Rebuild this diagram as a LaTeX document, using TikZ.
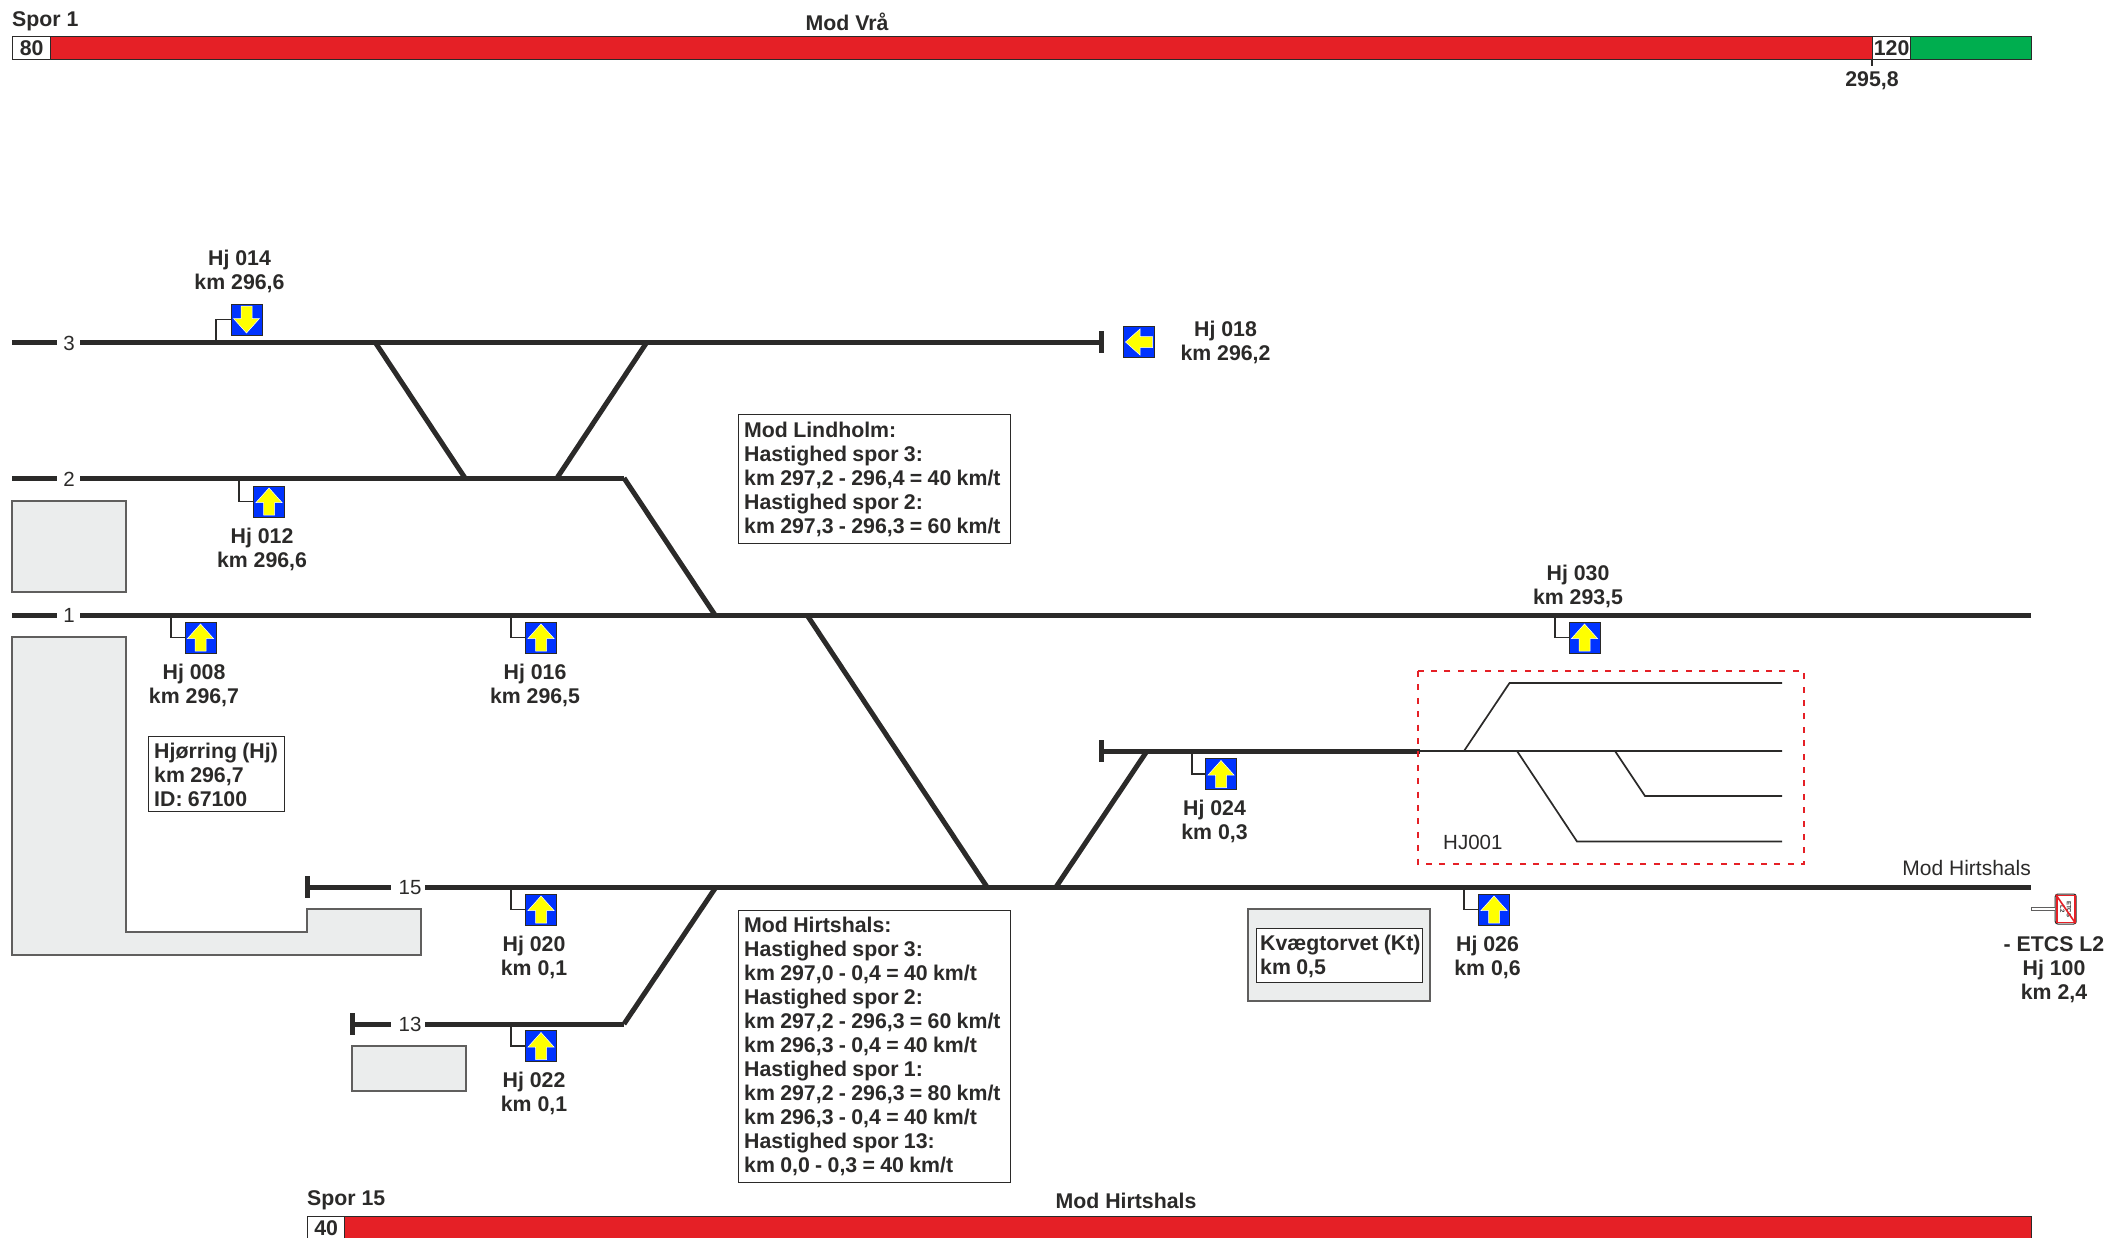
\documentclass[tikz,border=0pt]{standalone}
\usepackage{fontspec}
\setmainfont{Liberation Sans}
\newfontfamily\boxfont[WordSpace=0.9]{Liberation Sans}
\definecolor{ink}{HTML}{2B2A29}
\definecolor{bred}{HTML}{E52026}
\definecolor{bgreen}{HTML}{00AE4F}
\definecolor{sblue}{HTML}{0033FF}
\definecolor{syel}{HTML}{FFFF00}
\definecolor{bldg}{HTML}{EBEDED}
\tikzset{
 x=1pt,y=-1pt,
 lab/.style={font=\fontsize{21.3}{24}\selectfont\bfseries,text=ink,align=center,inner sep=0pt},
 boxframe/.style={draw=ink,line width=1.3pt,fill=white,anchor=north west,inner sep=0pt},
 infotext/.style={font=\boxfont\fontsize{21.3}{24}\selectfont\bfseries,text=ink,align=left,anchor=north west,inner sep=0pt},
 tracklab/.style={font=\fontsize{20.5}{24}\selectfont,text=ink,inner sep=0pt},
 thick track/.style={draw=ink,line width=5pt},
 thin track/.style={draw=ink,line width=1.7pt},
 building/.style={draw=ink!75,line width=1.2pt,fill=bldg},
 leader/.style={draw=ink,line width=1.2pt},
 barbox/.style={draw=ink,line width=1.3pt},
 sq/.style={draw=ink,line width=1pt,fill=sblue,minimum size=31pt,inner sep=0pt,outer sep=0pt},
}
\newcommand{\sgn}[4]{% name, x, y, rotation
 \node[sq] (#1) at (#2,#3) {};
 \fill[syel,draw=white,line width=.5pt,shift={(#2,#3)},rotate=#4] (0,-13.5) -- (13,1) -- (5.5,1) -- (5.5,13.5) -- (-5.5,13.5) -- (-5.5,1) -- (-13,1) -- cycle;
}
\newcommand{\lft}[5]{% name,x,y,elbowx,tracky
 \sgn{#1}{#2}{#3}{0}
 \coordinate (#1t) at (#4,#5);
 \draw[leader] (#1t) |- (#1.west);
}
\begin{document}
\begin{tikzpicture}
\useasboundingbox (0,0) rectangle (2109,1237);
% top bar
\node[barbox,fill=bred,minimum width=1860pt,minimum height=23pt,inner sep=0,anchor=north west] (topred) at (12,36) {};
\node[barbox,fill=bgreen,minimum width=121pt,minimum height=23pt,inner sep=0,anchor=north west] (topgreen) at (1910,36) {};
\node[barbox,fill=white,minimum width=38pt,minimum height=23pt,inner sep=0,anchor=north west,lab] (b80) at (12,36) {80};
\node[barbox,fill=white,minimum width=38pt,minimum height=23pt,inner sep=0,anchor=north west,lab] (b120) at (1872,36) {120};
\coordinate (tick) at (1872,66);
\draw[leader] (b120.south west) -- (tick);
\node[lab] (n2958) at (1872,81) {295,8};
\node[lab,anchor=west] (spor1) at (12,21) {Spor 1};
\node[lab] (modvra) at (847,22) {Mod Vrå};
% bottom bar
\node[barbox,fill=bred,minimum width=1724pt,minimum height=23pt,inner sep=0,anchor=north west] (botred) at (307,1216) {};
\node[barbox,fill=white,minimum width=37pt,minimum height=23pt,inner sep=0,anchor=north west,lab] (b40) at (307,1216) {40};
\node[lab,anchor=west] (spor15) at (307,1200) {Spor 15};
\node[lab] (modh2) at (1126,1201) {Mod Hirtshals};
% buildings
\path[building] (12,501) rectangle (126,592);
\path[building] (12,637) -- (126,637) -- (126,932) -- (307,932) -- (307,909) -- (421,909) -- (421,955) -- (12,955) -- cycle;
\path[building] (352,1046) rectangle (466,1091);
\path[building] (1248,909) rectangle (1430,1001);
% tracks: named junctions
\coordinate (a3) at (12,342); \coordinate (b3) at (57,342); \coordinate (c3) at (80,342); \coordinate (e3) at (1101,342);
\coordinate (a2) at (12,478); \coordinate (b2) at (57,478); \coordinate (c2) at (80,478); \coordinate (e2) at (624,478);
\coordinate (a1) at (12,615); \coordinate (b1) at (57,615); \coordinate (c1) at (80,615); \coordinate (e1) at (2031,615);
\coordinate (s24) at (1101,751); \coordinate (e24) at (1420,751);
\coordinate (s15) at (307,887); \coordinate (b15) at (391,887); \coordinate (c15) at (425,887); \coordinate (e15) at (2031,887);
\coordinate (s13) at (352,1024); \coordinate (b13) at (391,1024); \coordinate (c13) at (425,1024); \coordinate (e13) at (624,1024);
\coordinate (j1) at (375,342); \coordinate (j2) at (465,478);
\coordinate (j3) at (647,342); \coordinate (j4) at (557,478);
\coordinate (j5) at (715,615); \coordinate (j6) at (807,615); \coordinate (j7) at (987,887);
\coordinate (j8) at (1147,751); \coordinate (j9) at (1056,887); \coordinate (j10) at (716,887);
\path[thick track] (a3) -- (b3) (c3) -- (e3) (a2) -- (b2) (c2) -- (e2) (a1) -- (b1) (c1) -- (e1);
\path[thick track] (s24) -- (e24) (s15) -- (b15) (c15) -- (e15) (s13) -- (b13) (c13) -- (e13);
\path[thick track] (j1) -- (j2) (j3) -- (j4) (e2) -- (j5) (j6) -- (j7) (j8) -- (j9) (e13) -- (j10);
\path[thick track] (1101,331) -- (1101,353) (1101,740) -- (1101,762) (307,876) -- (307,898) (352,1013) -- (352,1035);
\node[tracklab] (t3) at (69,343) {3};
\node[tracklab] (t2) at (69,479) {2};
\node[tracklab] (t1) at (69,615) {1};
\node[tracklab] (t15) at (410,888) {15};
\node[tracklab] (t13) at (410,1024) {13};
% HJ001
\coordinate (m0) at (1420,751); \coordinate (m1) at (1782,751);
\coordinate (u0) at (1464,751); \coordinate (u1) at (1509.5,683); \coordinate (u2) at (1782,683);
\coordinate (d0) at (1517,751); \coordinate (d1) at (1577,841.5); \coordinate (d2) at (1782,841.5);
\coordinate (f0) at (1615,751); \coordinate (f1) at (1645,796); \coordinate (f2) at (1782,796);
\path[thin track] (m0) -- (m1) (u0) -- (u1) -- (u2) (d0) -- (d1) -- (d2) (f0) -- (f1) -- (f2);
\draw[bred,line width=2.9pt,dash pattern=on 6pt off 7.4pt] (1418,671) rectangle (1804,864);
\node[tracklab,anchor=west] (hj001) at (1443,842) {HJ001};
% signals
\sgn{s14}{246.5}{319.5}{180}
\coordinate (s14t) at (216,342); \draw[leader] (s14t) |- (s14.west);
\sgn{s18}{1139}{342}{90}
\lft{s12}{269}{501.5}{239}{478}
\lft{s08}{200.5}{637.5}{171}{615}
\lft{s16}{541}{637.5}{511}{615}
\lft{s30}{1584.5}{637.5}{1555}{615}
\lft{s24s}{1221}{774}{1192}{751}
\lft{s20}{541}{909.5}{511}{887}
\lft{s26}{1494}{909.5}{1464}{887}
\lft{s22}{541}{1046}{511}{1024}
% signal labels
\node[lab] (l14) at (239.5,271) {Hj 014\\km 296,6};
\node[lab] (l18) at (1225.5,342.5) {Hj 018\\km 296,2};
\node[lab] (l12) at (262,549) {Hj 012\\km 296,6};
\node[lab] (l08) at (194,685.5) {Hj 008\\km 296,7};
\node[lab] (l16) at (535,685.5) {Hj 016\\km 296,5};
\node[lab] (l30) at (1578,586.5) {Hj 030\\km 293,5};
\node[lab] (l24) at (1214.5,821.5) {Hj 024\\km 0,3};
\node[lab] (l20) at (534,957.5) {Hj 020\\km 0,1};
\node[lab] (l26) at (1487.5,957.5) {Hj 026\\km 0,6};
\node[lab] (l22) at (534,1093.5) {Hj 022\\km 0,1};
% info boxes
\node[boxframe,minimum width=136pt,minimum height=75pt] (hjor) at (148,736) {};
\node[infotext] (hjort) at (154,742.5) {Hjørring (Hj)\\km 296,7\\ID: 67100};
\node[boxframe,minimum width=272pt,minimum height=129pt] (lind) at (738,414) {};
\node[infotext] (lindt) at (744,422) {Mod Lindholm:\\Hastighed spor 3:\\km 297,2 - 296,4 = 40 km/t\\Hastighed spor 2:\\km 297,3 - 296,3 = 60 km/t};
\node[boxframe,minimum width=272pt,minimum height=272pt] (hirt) at (738,910) {};
\node[infotext] (hirtt) at (744,917) {Mod Hirtshals:\\Hastighed spor 3:\\km 297,0 - 0,4 = 40 km/t\\Hastighed spor 2:\\km 297,2 - 296,3 = 60 km/t\\km 296,3 - 0,4 = 40 km/t\\Hastighed spor 1:\\km 297,2 - 296,3 = 80 km/t\\km 296,3 - 0,4 = 40 km/t\\Hastighed spor 13:\\km 0,0 - 0,3 = 40 km/t};
\node[boxframe,minimum width=166pt,minimum height=54pt] (kv) at (1256,928) {};
\node[infotext] (kvt) at (1260,934.5) {Kvægtorvet (Kt)\\km 0,5};
\node[font=\fontsize{21}{24}\selectfont,text=ink,anchor=east,inner sep=0pt] (modh) at (2031,868) {Mod Hirtshals};
% ETCS sign
\node[draw=ink,line width=1pt,fill=white,minimum width=21pt,minimum height=30pt,rounded corners=2.5pt,inner sep=0pt] (etcs) at (2065.7,909) {};
\node[draw=bred,line width=1.6pt,minimum width=18pt,minimum height=27pt,inner sep=0pt] (etcsin) at (2065.7,909) {};
\node[rotate=-90,font=\fontsize{6}{6.5}\selectfont\bfseries,text=ink,align=center,inner sep=0pt] (etcst) at (2065.7,909) {ETCS\\L2};
\draw[bred,line width=1.6pt] (etcsin.north west) -- (etcsin.south east);
\coordinate (pole) at (2031,909);
\draw[ink!75,line width=3.4pt] (pole) -- (etcs.west);
\draw[white,line width=1.4pt] (2032,909) -- (etcs.west);
\node[lab] (letcs) at (2054,970) {- ETCS L2\\Hj 100\\km 2,4};
\end{tikzpicture}
\end{document}
